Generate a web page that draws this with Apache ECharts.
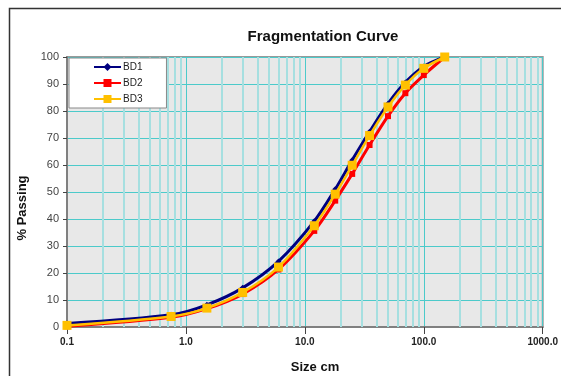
<!DOCTYPE html>
<html>
<head>
<meta charset="utf-8">
<script src="https://cdn.jsdelivr.net/npm/echarts@6/dist/echarts.min.js"></script>
<style>html,body{margin:0;padding:0;background:#fff;}#c{width:561px;height:376px;}</style>
</head>
<body>
<div id="c"></div>
<script>
var sizes = [0.1, 0.75, 1.5, 3, 6, 12, 18, 25, 35, 50, 70, 100, 150];
var bd1 = [1.3, 4.5, 8.2, 14.5, 24.3, 39.2, 51.0, 61.8, 72.3, 82.7, 90.6, 96.5, 100];
var bd2 = [0.3, 3.6, 6.8, 12.2, 21.3, 35.6, 46.8, 56.7, 67.4, 78.1, 86.6, 93.3, 100];
var bd3 = [0.6, 3.9, 7.0, 12.8, 22.2, 37.5, 49.2, 59.9, 70.9, 81.5, 89.6, 95.8, 100];
var seriesNames = ['BD1', 'BD2', 'BD3'];
var minorX = [0.2,0.3,0.4,0.5,0.6,0.7,0.8,0.9,2,3,4,5,6,7,8,9,20,30,40,50,60,70,80,90,200,300,400,500,600,700,800,900];

function pairs(ys){ return sizes.map(function(x,i){ return [x, ys[i]]; }); }

var chart = echarts.init(document.getElementById('c'), null, {renderer:'canvas'});
var minorLines = minorX.map(function(v){ return {xAxis: v}; });
var minorTicks = minorX.map(function(v){ return [{coord:[v,0]},{coord:[v,-1.6]}]; });

chart.setOption({
  animation: false,
  textStyle: {fontFamily: 'Liberation Sans, Arial, sans-serif'},
  title: {
    text: 'Fragmentation Curve',
    left: 318, top: 24, textAlign: 'center',
    textStyle: {fontSize: 15, fontWeight: 'bold', color: '#111', fontFamily: 'Liberation Sans, Arial, sans-serif'}
  },
  graphic: [
    {type:'rect', left: 7, top: 6, shape:{width: 600, height: 420}, style:{fill:'none', stroke:'#333', lineWidth:1.5}, silent:true, z:-10},
    {type:'text', x: 22, y: 208, rotation: Math.PI/2,
     style:{text:'% Passing', font:'bold 13px Liberation Sans, Arial, sans-serif', fill:'#111', align:'center', verticalAlign:'middle'}},
    {type:'text', x: 315, y: 367,
     style:{text:'Size cm', font:'bold 13px Liberation Sans, Arial, sans-serif', fill:'#111', align:'center', verticalAlign:'middle'}}
  ],
  legend: {
    orient: 'vertical', left: 69, top: 58, z: 50,
    data: seriesNames,
    backgroundColor: '#fff', borderColor: '#888', borderWidth: 1,
    padding: [4, 24, 4, 24], itemGap: 6, itemWidth: 27, itemHeight: 10,
    textStyle: {fontSize: 10, color: '#222', padding: [0,0,0,-3]}
  },
  grid: {left: 67, right: 15, top: 57, bottom: 49, show: true, backgroundColor: '#e8e8e8', borderColor: '#999', borderWidth: 2},
  xAxis: {
    type: 'log', logBase: 10, min: 0.1, max: 1000,
    axisLine: {show: true, onZero: false, lineStyle: {color: '#808080', width: 2}},
    axisTick: {show: true, length: 7, lineStyle: {color: '#444'}},
    axisLabel: {fontSize: 10, fontWeight: 'bold', color: '#222', margin: 10,
      formatter: function(v){ return Number(v).toFixed(1); }},
    splitLine: {show: true, lineStyle: {color: '#4ccaca', width: 1}}
  },
  yAxis: {
    type: 'value', min: 0, max: 100, interval: 10,
    axisLine: {show: true, onZero: false, lineStyle: {color: '#808080', width: 2}},
    axisTick: {show: true, length: 4, lineStyle: {color: '#444'}},
    axisLabel: {fontSize: 11, color: '#444', margin: 8},
    splitLine: {show: true, lineStyle: {color: '#4ccaca', width: 1}}
  },
  series: [
    {name: 'grid-minor', type: 'line', data: pairs(bd3), symbol: 'none', lineStyle: {opacity: 0}, z: 1, clip: false, silent: true,
     markLine: {silent: true, symbol: 'none', label: {show: false}, animation: false, z: 1,
       lineStyle: {color: '#a6dfe0', width: 2, type: 'solid'},
       data: minorLines.concat(minorTicks)}},
    {name: 'BD1', type: 'line', data: pairs(bd1), smooth: 0.3, symbol: 'diamond', symbolSize: 6,
     itemStyle: {color: '#000080'}, lineStyle: {color: '#000080', width: 3}, z: 3},
    {name: 'BD2', type: 'line', data: pairs(bd2), smooth: 0.3, symbol: 'rect', symbolSize: 6,
     itemStyle: {color: '#ff0000'}, lineStyle: {color: '#ff0000', width: 3}, z: 4},
    {name: 'BD3', type: 'line', data: pairs(bd3), smooth: 0.3, symbol: 'rect', symbolSize: 9,
     itemStyle: {color: '#ffc000'}, lineStyle: {color: '#ffc000', width: 2.5}, z: 5}
  ]
});
</script>
</body>
</html>
